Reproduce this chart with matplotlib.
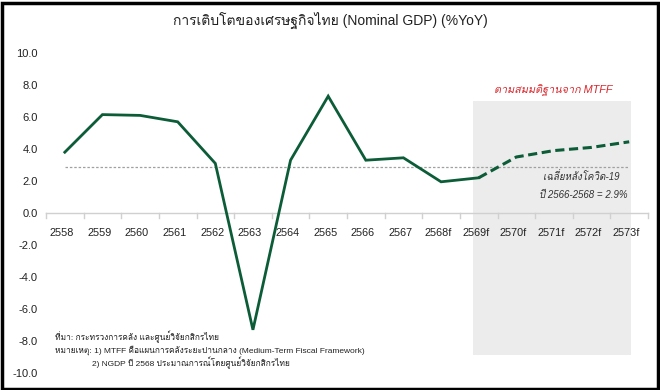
import matplotlib
matplotlib.use("Agg")
import matplotlib.pyplot as plt
from matplotlib import font_manager as fm
from matplotlib.ft2font import FT2Font
from matplotlib.patches import Rectangle

# ---------------- data ----------------
years = ["2558", "2559", "2560", "2561", "2562", "2563", "2564", "2565",
         "2566", "2567", "2568f", "2569f", "2570f", "2571f", "2572f", "2573f"]
actual_vals = [3.8, 6.15, 6.1, 5.7, 3.1, -7.3, 3.3, 7.3, 3.3, 3.45, 1.95, 2.2]
forecast_vals = [2.2, 3.5, 3.9, 4.1, 4.45]
avg_value = 2.9
yticks = [10.0, 8.0, 6.0, 4.0, 2.0, 0.0, -2.0, -4.0, -6.0, -8.0, -10.0]
title = "การเติบโตของเศรษฐกิจไทย (Nominal GDP) (%YoY)"
mtff_label = "ตามสมมติฐานจาก MTFF"
avg_label1 = "เฉลี่ยหลังโควิด-19"
avg_label2 = "ปี 2566-2568 = 2.9%"
note1 = "ที่มา: กระทรวงการคลัง และศูนย์วิจัยกสิกรไทย"
note2 = "หมายเหตุ: 1) MTFF คือแผนการคลังระยะปานกลาง (Medium-Term Fiscal Framework)"
note3 = "2) NGDP ปี 2568 ประมาณการณ์โดยศูนย์วิจัยกสิกรไทย"

# ---------------- fonts ----------------
thai_font = None
for f in fm.fontManager.ttflist:
    try:
        cm = FT2Font(f.fname).get_charmap()
        if 0x0E01 in cm and 0x0E34 in cm:
            thai_font = f.name
            break
    except Exception:
        pass
fams = ["Liberation Sans"]
if thai_font:
    fams.append(thai_font)
fams.append("DejaVu Sans")
plt.rcParams["font.family"] = fams

green = "#0b5c37"
txt = "#222222"

fig = plt.figure(figsize=(6.6, 3.9), dpi=100)
ax = fig.add_axes([46 / 660, 17 / 390, 602 / 660, 320 / 390])

n = len(years)
xa = list(range(len(actual_vals)))
xf = list(range(len(actual_vals) - 1, len(actual_vals) - 1 + len(forecast_vals)))

# shaded forecast area
ax.add_patch(Rectangle((10.86, -8.85), 4.2, 15.85, facecolor="#ececec",
                       edgecolor="none", zorder=0))

ax.plot([0, n - 1], [avg_value, avg_value], color="#a0a0a0", lw=0.9,
        ls=(0, (2, 1.5)), zorder=1)
ax.plot(xa, actual_vals, color=green, lw=2.0, zorder=3, solid_joinstyle="miter")
ax.plot(xf, forecast_vals, color=green, lw=2.2, ls=(0, (3, 1.5)), zorder=3)

ax.set_xlim(-0.5, n - 0.5)
ax.set_ylim(-10, 10)
ax.set_yticks(yticks)
ax.set_yticklabels([f"{v:.1f}" for v in yticks], fontsize=8, color=txt)
ax.tick_params(axis="y", length=0, pad=6)

ax.set_xticks([])
for sp in ["left", "right", "top"]:
    ax.spines[sp].set_visible(False)
ax.spines["bottom"].set_position(("data", 0))
ax.spines["bottom"].set_color("#d0d0d0")
ax.spines["bottom"].set_linewidth(1.0)
# category boundary tick marks
for b in range(n + 1):
    ax.plot([b - 0.5, b - 0.5], [0, -0.3], color="#d0d0d0", lw=1.0,
            zorder=1, clip_on=False)
for i, yr in enumerate(years):
    ax.text(i - 0.08, -1.25, yr, ha="center", va="center", fontsize=7.8,
            color=txt, zorder=2)

fig.text(0.50, 0.947, title, ha="center", va="center", fontsize=10,
         color=txt)

ax.text(12.97, 7.65, mtff_label, ha="center", va="center", fontsize=7.8,
        color="#d9262b", style="italic")
ax.text(14.75, 2.3, avg_label1, ha="right", va="center", fontsize=7,
        color="#333333", style="italic")
ax.text(14.95, 1.1, avg_label2, ha="right", va="center", fontsize=7,
        color="#333333", style="italic")

fig.text(55 / 660, 1 - 337 / 390, note1, ha="left", va="center", fontsize=6,
         color=txt)
fig.text(55 / 660, 1 - 350 / 390, note2, ha="left", va="center", fontsize=6,
         color=txt)
fig.text(92 / 660, 1 - 363 / 390, note3, ha="left", va="center", fontsize=6,
         color=txt)

# black frame around the picture
fig.patches.append(Rectangle((1.5 / 660, 1.5 / 390), 1 - 4 / 660, 1 - 4 / 390,
                             transform=fig.transFigure, fill=False,
                             edgecolor="black", lw=2.5))

fig.savefig("out.png", dpi=100)
